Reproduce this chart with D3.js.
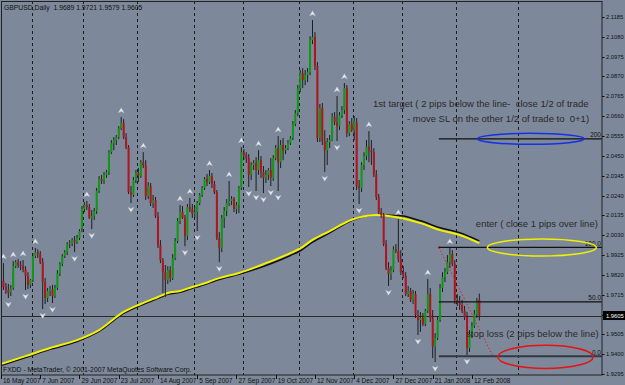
<!DOCTYPE html>
<html>
<head>
<script src="https://d3js.org/d3.v7.min.js"></script>
<style>
  body { margin: 0; background: #7d899a; }
  text { font-family: "Liberation Sans", Arial, sans-serif; }
</style>
</head>
<body>
<div id="chart"></div>
<script>
// GBPUSD daily bars, 16 May 2007 .. 15 Feb 2008
var symbolTitle = "GBPUSD,Daily  1.9689 1.9721 1.9579 1.9605";
var firstDay = "2007-05-16";
var holidays = ["2007-12-25", "2008-01-01"];

var openP = [1.9856,1.9788,1.9756,1.9740,1.9729,1.9751,1.9866,1.9887,1.9872,1.9866,
 1.9850,1.9814,1.9767,1.9793,1.9919,1.9940,1.9930,1.9887,1.9782,1.9698,
 1.9735,1.9745,1.9708,1.9751,1.9829,1.9877,1.9919,1.9940,1.9983,1.9988,
 2.0004,1.9993,2.0015,2.0068,2.0168,2.0189,2.0179,2.0121,2.0131,2.0158,
 2.0264,2.0327,2.0317,2.0349,2.0364,2.0469,2.0517,2.0533,2.0549,2.0596,
 2.0623,2.0549,2.0496,2.0258,2.0243,2.0322,2.0359,2.0343,2.0416,2.0401,
 2.0237,2.0290,2.0200,2.0216,2.0131,1.9977,1.9898,1.9834,1.9793,1.9845,
 1.9803,1.9909,1.9999,2.0105,2.0152,2.0121,2.0025,2.0179,2.0168,2.0142,
 2.0152,2.0200,2.0243,2.0280,2.0327,2.0311,2.0343,2.0301,2.0258,2.0015,
 1.9962,2.0121,2.0158,2.0200,2.0211,2.0221,2.0168,2.0189,2.0280,2.0469,
 2.0454,2.0438,2.0349,2.0401,2.0412,2.0375,2.0427,2.0364,2.0333,2.0349,
 2.0375,2.0333,2.0438,2.0491,2.0416,2.0507,2.0480,2.0491,2.0517,2.0544,
 2.0618,2.0676,2.0808,2.0888,2.0851,2.0877,2.0893,2.1062,2.1078,2.0925,
 2.0544,2.0703,2.0528,2.0480,2.0523,2.0533,2.0655,2.0628,2.0607,2.0665,
 2.0692,2.0808,2.0570,2.0618,2.0586,2.0628,2.0290,2.0280,2.0401,2.0449,
 2.0496,2.0480,2.0469,2.0349,2.0232,2.0152,2.0137,1.9983,1.9856,1.9824,
 1.9845,1.9956,1.9946,1.9903,1.9834,1.9814,1.9719,1.9735,1.9687,1.9719,
 1.9608,1.9581,1.9592,1.9560,1.9629,1.9719,1.9592,1.9443,1.9486,1.9581,
 1.9751,1.9808,1.9834,1.9887,1.9930,1.9877,1.9687,1.9671,1.9661,1.9629,
 1.9597,1.9433,1.9507,1.9549,1.9613,1.9689];
var highP = [1.9887,1.9882,1.9777,1.9772,1.9767,1.9893,1.9898,1.9903,1.9893,1.9898,
 1.9866,1.9834,1.9798,1.9935,1.9962,1.9956,1.9946,1.9909,1.9803,1.9751,
 1.9761,1.9767,1.9767,1.9845,1.9887,1.9930,1.9951,1.9993,2.0004,2.0015,
 2.0025,2.0031,2.0062,2.0184,2.0205,2.0211,2.0195,2.0163,2.0174,2.0280,
 2.0343,2.0349,2.0364,2.0375,2.0480,2.0533,2.0549,2.0560,2.0607,2.0655,
 2.0644,2.0570,2.0507,2.0290,2.0338,2.0375,2.0385,2.0427,2.0469,2.0427,
 2.0311,2.0306,2.0243,2.0232,2.0152,2.0004,1.9909,1.9872,1.9866,1.9866,
 1.9930,2.0015,2.0121,2.0189,2.0184,2.0137,2.0195,2.0227,2.0195,2.0184,
 2.0211,2.0253,2.0290,2.0338,2.0354,2.0375,2.0359,2.0317,2.0269,2.0046,
 2.0137,2.0179,2.0221,2.0317,2.0237,2.0232,2.0205,2.0290,2.0496,2.0485,
 2.0469,2.0459,2.0416,2.0427,2.0443,2.0480,2.0449,2.0396,2.0375,2.0385,
 2.0438,2.0454,2.0507,2.0554,2.0533,2.0544,2.0507,2.0533,2.0554,2.0634,
 2.0692,2.0824,2.0904,2.0914,2.0904,2.0914,2.1083,2.1168,2.1105,2.0946,
 2.0724,2.0729,2.0586,2.0544,2.0560,2.0676,2.0681,2.0766,2.0681,2.0713,
 2.0835,2.0824,2.0634,2.0650,2.0660,2.0650,2.0322,2.0416,2.0469,2.0533,
 2.0581,2.0533,2.0491,2.0375,2.0248,2.0174,2.0147,2.0004,1.9887,1.9866,
 1.9972,1.9983,2.0116,1.9951,1.9866,1.9834,1.9761,1.9751,1.9740,1.9735,
 1.9634,1.9624,1.9618,1.9640,1.9798,1.9751,1.9634,1.9512,1.9602,1.9772,
 1.9834,1.9856,1.9925,1.9962,1.9951,1.9898,1.9719,1.9708,1.9687,1.9656,
 1.9624,1.9528,1.9570,1.9634,1.9698,1.9721];
var lowP = [1.9761,1.9740,1.9719,1.9698,1.9708,1.9740,1.9856,1.9856,1.9845,1.9834,
 1.9740,1.9745,1.9751,1.9782,1.9909,1.9909,1.9877,1.9639,1.9666,1.9676,
 1.9708,1.9671,1.9698,1.9740,1.9814,1.9866,1.9909,1.9925,1.9962,1.9972,
 1.9940,1.9983,2.0004,2.0046,2.0152,2.0163,2.0116,2.0062,2.0110,2.0142,
 2.0253,2.0301,2.0301,2.0333,2.0349,2.0459,2.0480,2.0507,2.0538,2.0586,
 2.0538,2.0485,2.0248,2.0200,2.0232,2.0306,2.0311,2.0333,2.0385,2.0216,
 2.0221,2.0184,2.0174,2.0121,1.9962,1.9882,1.9724,1.9703,1.9772,1.9782,
 1.9793,1.9898,1.9988,2.0089,2.0116,1.9972,2.0004,2.0152,2.0121,2.0121,
 2.0052,2.0189,2.0232,2.0269,2.0290,2.0301,2.0280,2.0248,2.0004,1.9887,
 1.9940,2.0068,2.0131,2.0184,2.0189,2.0152,2.0142,2.0147,2.0269,2.0427,
 2.0412,2.0285,2.0322,2.0375,2.0264,2.0349,2.0333,2.0253,2.0306,2.0322,
 2.0290,2.0317,2.0427,2.0264,2.0385,2.0427,2.0459,2.0480,2.0507,2.0533,
 2.0607,2.0660,2.0787,2.0808,2.0824,2.0840,2.0877,2.1041,2.0904,2.0523,
 2.0523,2.0507,2.0364,2.0401,2.0491,2.0528,2.0613,2.0528,2.0586,2.0650,
 2.0671,2.0549,2.0554,2.0576,2.0533,2.0269,2.0195,2.0258,2.0375,2.0427,
 2.0416,2.0401,2.0338,2.0216,2.0142,2.0121,1.9972,1.9845,1.9761,1.9793,
 1.9834,1.9935,1.9887,1.9819,1.9803,1.9708,1.9703,1.9676,1.9666,1.9592,
 1.9502,1.9518,1.9549,1.9549,1.9618,1.9571,1.9380,1.9359,1.9475,1.9571,
 1.9729,1.9782,1.9824,1.9856,1.9866,1.9666,1.9656,1.9634,1.9618,1.9581,
 1.9396,1.9412,1.9486,1.9539,1.9592,1.9579];
var closeP = [1.9782,1.9756,1.9740,1.9724,1.9745,1.9866,1.9887,1.9872,1.9866,1.9850,
 1.9814,1.9767,1.9793,1.9919,1.9940,1.9930,1.9887,1.9782,1.9698,1.9735,
 1.9745,1.9708,1.9751,1.9829,1.9877,1.9919,1.9940,1.9983,1.9988,2.0004,
 1.9993,2.0015,2.0052,2.0168,2.0189,2.0179,2.0121,2.0131,2.0158,2.0264,
 2.0327,2.0317,2.0349,2.0364,2.0469,2.0517,2.0533,2.0549,2.0596,2.0623,
 2.0549,2.0496,2.0258,2.0243,2.0322,2.0359,2.0343,2.0416,2.0401,2.0237,
 2.0290,2.0200,2.0216,2.0131,1.9977,1.9898,1.9834,1.9793,1.9845,1.9803,
 1.9909,1.9999,2.0105,2.0152,2.0121,2.0025,2.0179,2.0168,2.0142,2.0152,
 2.0200,2.0243,2.0280,2.0327,2.0311,2.0343,2.0301,2.0258,2.0015,1.9962,
 2.0121,2.0158,2.0200,2.0211,2.0221,2.0168,2.0189,2.0280,2.0469,2.0454,
 2.0438,2.0349,2.0401,2.0412,2.0375,2.0427,2.0364,2.0333,2.0349,2.0375,
 2.0333,2.0438,2.0491,2.0416,2.0507,2.0480,2.0491,2.0517,2.0544,2.0618,
 2.0676,2.0808,2.0888,2.0851,2.0877,2.0893,2.1062,2.1078,2.0925,2.0544,
 2.0703,2.0528,2.0480,2.0523,2.0533,2.0655,2.0628,2.0607,2.0665,2.0692,
 2.0808,2.0570,2.0618,2.0586,2.0634,2.0290,2.0280,2.0401,2.0449,2.0496,
 2.0480,2.0469,2.0349,2.0232,2.0152,2.0137,1.9983,1.9856,1.9824,1.9845,
 1.9956,1.9946,1.9903,1.9834,1.9814,1.9719,1.9735,1.9687,1.9719,1.9608,
 1.9581,1.9592,1.9560,1.9629,1.9719,1.9592,1.9443,1.9486,1.9581,1.9751,
 1.9808,1.9834,1.9887,1.9930,1.9877,1.9687,1.9671,1.9661,1.9629,1.9597,
 1.9433,1.9507,1.9549,1.9613,1.9676,1.9605];

// Bill Williams fractals (bar numbers)
var fractalUp = [1, 5, 9, 14, 35, 49, 58, 73, 77, 85, 93, 98, 105, 113, 127, 137, 140, 150, 162, 174, 183];
var fractalDown = [3, 10, 17, 21, 30, 37, 53, 75, 80, 89, 101, 104, 107, 110, 113, 132, 137, 146, 158, 170, 177, 190];

// moving averages, read at these bars
var maBars = [0, 10, 20, 31, 40, 50, 57, 64, 68, 73, 78, 81, 89, 97, 108, 118, 122, 127, 134, 143, 153, 163, 171, 179, 187, 195];
var maYellow = [1.9348,1.9390,1.9433,1.9475,1.9528,1.9624,1.9666,1.9703,1.9724,1.9735,1.9756,1.9767,1.9803,
 1.9830,1.9882,1.9935,1.9960,2.0005,2.0052,2.0112,2.0137,2.0121,2.0094,2.0057,2.0031,1.9988];
var maBlack = [1.9341,1.9383,1.9426,1.9468,1.9521,1.9617,1.9659,1.9696,1.9717,1.9728,1.9749,1.9760,1.9796,
 1.9823,1.9870,1.9923,1.9948,1.9993,2.0042,2.0108,2.0137,2.0133,2.0106,2.0069,2.0043,2.0000];

// price scale labels
var yTicks = [2.1185,2.1080,2.0975,2.0870,2.0765,2.0660,2.0555,2.0450,2.0345,2.0240,
 2.0135,2.0030,1.9925,1.9820,1.9715,1.9610,1.9505,1.9400,1.9295];
var lastPrice = 1.9605;

// fibonacci drawn by hand: 100% at the high, 0% at the low
var fibStart = 178.5, fibEnd = 200.5;
var fib100 = 1.9965, fib0 = 1.9390;
var fibLevels = [0, 50, 100, 200];
var fibLabels = ["0.0", "50.0", "100.0", "200"];

// month separator after the last bar (as drawn by the terminal)
var futureSeparator = 210;

var notes = [
  "1st target ( 2 pips below the line-  close 1/2 of trade",
  "- move SL on the other 1/2 of trade to  0+1)",
  "enter ( close 1 pips over line)",
  "stop loss (2 pips below the line)"
];

var W = 625, H = 385;
var plotRight = 602, plotBottom = 375;

// trading days
var dates = [];
var d = new Date(firstDay + "T12:00:00");
while (dates.length < closeP.length) {
    var iso = d3.timeFormat("%Y-%m-%d")(d);
    if (d.getDay() != 0 && d.getDay() != 6 && holidays.indexOf(iso) < 0) dates.push(new Date(d));
    d.setDate(d.getDate() + 1);
}

var x = d3.scaleLinear().domain([0, 195]).range([1, 479.3]);
var y = d3.scaleLinear().domain([1.9295, 2.1185]).range([374.1, 16.9]);

var svg = d3.select("#chart").append("svg")
    .attr("width", W).attr("height", H);

svg.append("rect").attr("width", W).attr("height", H).attr("fill", "#7d899a");

var plot = svg.append("g");
svg.append("clipPath").attr("id", "clip")
    .append("rect").attr("x", 1).attr("y", 1).attr("width", plotRight - 1).attr("height", plotBottom - 1);
plot.attr("clip-path", "url(#clip)");

// month separators
var seps = [];
for (var i = 1; i < dates.length; i++) {
    if (dates[i].getMonth() != dates[i - 1].getMonth()) seps.push(i);
}
seps.push(futureSeparator);
plot.selectAll("line.sep").data(seps).enter().append("line")
    .attr("class", "sep")
    .attr("x1", function (b) { return Math.round(x(b + 0.6)) + 0.5; })
    .attr("x2", function (b) { return Math.round(x(b + 0.6)) + 0.5; })
    .attr("y1", 1).attr("y2", plotBottom)
    .attr("stroke", "#1c1c1c").attr("stroke-width", 1)
    .attr("stroke-dasharray", "3,3");

// last price line
plot.append("line")
    .attr("x1", 1).attr("x2", plotRight)
    .attr("y1", Math.round(y(lastPrice)) + 0.5).attr("y2", Math.round(y(lastPrice)) + 0.5)
    .attr("stroke", "#2a2a2a").attr("stroke-width", 1);

// moving averages
var maLine = function (vals) {
    return d3.line()
        .x(function (b) { return x(b); })
        .y(function (b, k) { return y(vals[k]); })
        .curve(d3.curveMonotoneX)(maBars);
};
plot.append("path").attr("d", maLine(maBlack))
    .attr("fill", "none").attr("stroke", "#111").attr("stroke-width", 1.6);
plot.append("path").attr("d", maLine(maYellow))
    .attr("fill", "none").attr("stroke", "#f2f200").attr("stroke-width", 2);

// candles
var idx = d3.range(closeP.length);
var candles = plot.selectAll("g.c").data(idx).enter().append("g").attr("class", "c");
candles.append("line")
    .attr("x1", function (i) { return x(i); })
    .attr("x2", function (i) { return x(i); })
    .attr("y1", function (i) { return y(highP[i]); })
    .attr("y2", function (i) { return y(lowP[i]); })
    .attr("stroke", "#1e1e1e").attr("stroke-width", 1);
candles.append("rect")
    .attr("x", function (i) { return x(i) - 1; })
    .attr("width", 2)
    .attr("y", function (i) { return y(Math.max(openP[i], closeP[i])); })
    .attr("height", function (i) { return Math.max(1, Math.abs(y(openP[i]) - y(closeP[i]))); })
    .attr("fill", function (i) { return closeP[i] >= openP[i] ? "#0f9a14" : "#b0141c"; });

// fractal arrows
var arrowUp = "M0,-2.8 L3,2.3 L0,0.9 L-3,2.3 Z";
var arrowDown = "M0,2.8 L3,-2.3 L0,-0.9 L-3,-2.3 Z";
plot.selectAll("path.fu").data(fractalUp).enter().append("path")
    .attr("class", "fu").attr("d", arrowUp)
    .attr("transform", function (i) { return "translate(" + x(i) + "," + (y(highP[i]) - 6.5) + ")"; })
    .attr("fill", "#e8eaf0").attr("stroke", "#aeb4c0").attr("stroke-width", 0.4);
plot.selectAll("path.fd").data(fractalDown).enter().append("path")
    .attr("class", "fd").attr("d", arrowDown)
    .attr("transform", function (i) { return "translate(" + x(i) + "," + (y(lowP[i]) + 6.5) + ")"; })
    .attr("fill", "#e8eaf0").attr("stroke", "#aeb4c0").attr("stroke-width", 0.4);

// fibonacci levels
var fibPrice = function (lv) { return fib0 + (fib100 - fib0) * lv / 100; };
plot.append("line")
    .attr("x1", x(fibStart)).attr("y1", y(fib100))
    .attr("x2", x(fibEnd)).attr("y2", y(fib0))
    .attr("stroke", "#e02020").attr("stroke-width", 1).attr("stroke-dasharray", "1.5,2");
plot.append("rect").attr("x", x(fibStart) - 1).attr("y", y(fib100) - 1)
    .attr("width", 2).attr("height", 2).attr("fill", "#e02020");
plot.selectAll("line.fib").data(fibLevels).enter().append("line")
    .attr("class", "fib")
    .attr("x1", x(fibStart)).attr("x2", plotRight)
    .attr("y1", function (lv) { return y(fibPrice(lv)); })
    .attr("y2", function (lv) { return y(fibPrice(lv)); })
    .attr("stroke", function (lv) { return lv == 0 ? "#333a44" : "#111"; })
    .attr("stroke-width", function (lv) { return lv == 0 ? 2 : 1.3; });
plot.selectAll("text.fib").data(fibLevels).enter().append("text")
    .attr("class", "fib")
    .attr("x", 601).attr("y", function (lv) { return y(fibPrice(lv)) - 1.5; })
    .attr("text-anchor", "end").attr("font-size", 6.5).attr("fill", "#111")
    .text(function (lv, k) { return fibLabels[k]; });

// target / entry / stop ellipses
var zones = [
    { bar: 216, price: fibPrice(200), rb: 21.8, rp: 0.0029, color: "#1530e8" },
    { bar: 220.5, price: fibPrice(100), rb: 22.2, rp: 0.0045, color: "#f0f000" },
    { bar: 222, price: fibPrice(0) - 0.0004, rb: 19.4, rp: 0.0061, color: "#e81010" }
];
plot.selectAll("ellipse").data(zones).enter().append("ellipse")
    .attr("cx", function (z) { return x(z.bar); })
    .attr("cy", function (z) { return y(z.price); })
    .attr("rx", function (z) { return x(z.bar + z.rb) - x(z.bar); })
    .attr("ry", function (z) { return y(z.price - z.rp) - y(z.price); })
    .attr("fill", "none").attr("stroke", function (z) { return z.color; }).attr("stroke-width", 1.5);

// notes
var notePos = [[151.7, 2.0724], [165.5, 2.0645], [193.6, 2.0089], [189.6, 1.9507]];
plot.selectAll("text.note").data(notes).enter().append("text")
    .attr("class", "note")
    .attr("x", function (t, k) { return x(notePos[k][0]); })
    .attr("y", function (t, k) { return y(notePos[k][1]); })
    .attr("dy", "0.35em")
    .attr("font-size", 9.5).attr("fill", "#2a2a2a")
    .style("white-space", "pre")
    .text(function (t) { return t; });

// frame
svg.append("rect").attr("x", 1.5).attr("y", 1.5)
    .attr("width", plotRight - 1.5).attr("height", plotBottom - 1.5)
    .attr("fill", "none").attr("stroke", "#222").attr("stroke-width", 1);

// price scale
var ax = svg.append("g");
ax.selectAll("line").data(yTicks).enter().append("line")
    .attr("x1", plotRight).attr("x2", plotRight + 2.5)
    .attr("y1", function (v) { return Math.round(y(v)) + 0.5; })
    .attr("y2", function (v) { return Math.round(y(v)) + 0.5; })
    .attr("stroke", "#111");
ax.selectAll("text").data(yTicks).enter().append("text")
    .attr("x", plotRight + 4).attr("y", function (v) { return y(v); })
    .attr("dy", "0.35em").attr("font-size", 5.8).attr("fill", "#111")
    .text(function (v) { return v.toFixed(4); });
ax.append("rect").attr("x", plotRight + 1).attr("y", y(lastPrice) - 4.5)
    .attr("width", W - plotRight - 1).attr("height", 9).attr("fill", "#000");
ax.append("text").attr("x", plotRight + 4).attr("y", y(lastPrice))
    .attr("dy", "0.35em").attr("font-size", 5.8).attr("fill", "#fff")
    .text(lastPrice.toFixed(4));

// time scale
var fmt = d3.timeFormat("%-d %b %Y");
var tickBars = idx.filter(function (i) { return i % 16 == 0; });
var tx = svg.append("g");
tx.selectAll("line").data(tickBars).enter().append("line")
    .attr("x1", function (i) { return Math.round(x(i)) + 0.5; })
    .attr("x2", function (i) { return Math.round(x(i)) + 0.5; })
    .attr("y1", plotBottom).attr("y2", plotBottom + 4)
    .attr("stroke", "#111");
tx.selectAll("text").data(tickBars).enter().append("text")
    .attr("x", function (i) { return x(i) + 2; })
    .attr("y", 382.5).attr("font-size", 6.5).attr("fill", "#111")
    .text(function (i) { return fmt(dates[i]); });

// title and copyright
svg.append("text").attr("x", 4).attr("y", 9.5).attr("font-size", 6.8).attr("fill", "#111")
    .style("white-space", "pre").text(symbolTitle);
svg.append("text").attr("x", 3).attr("y", 371.5).attr("font-size", 6.8).attr("fill", "#111")
    .text("FXDD - MetaTrader, \u00a9 2001-2007 MetaQuotes Software Corp.");
</script>
</body>
</html>
